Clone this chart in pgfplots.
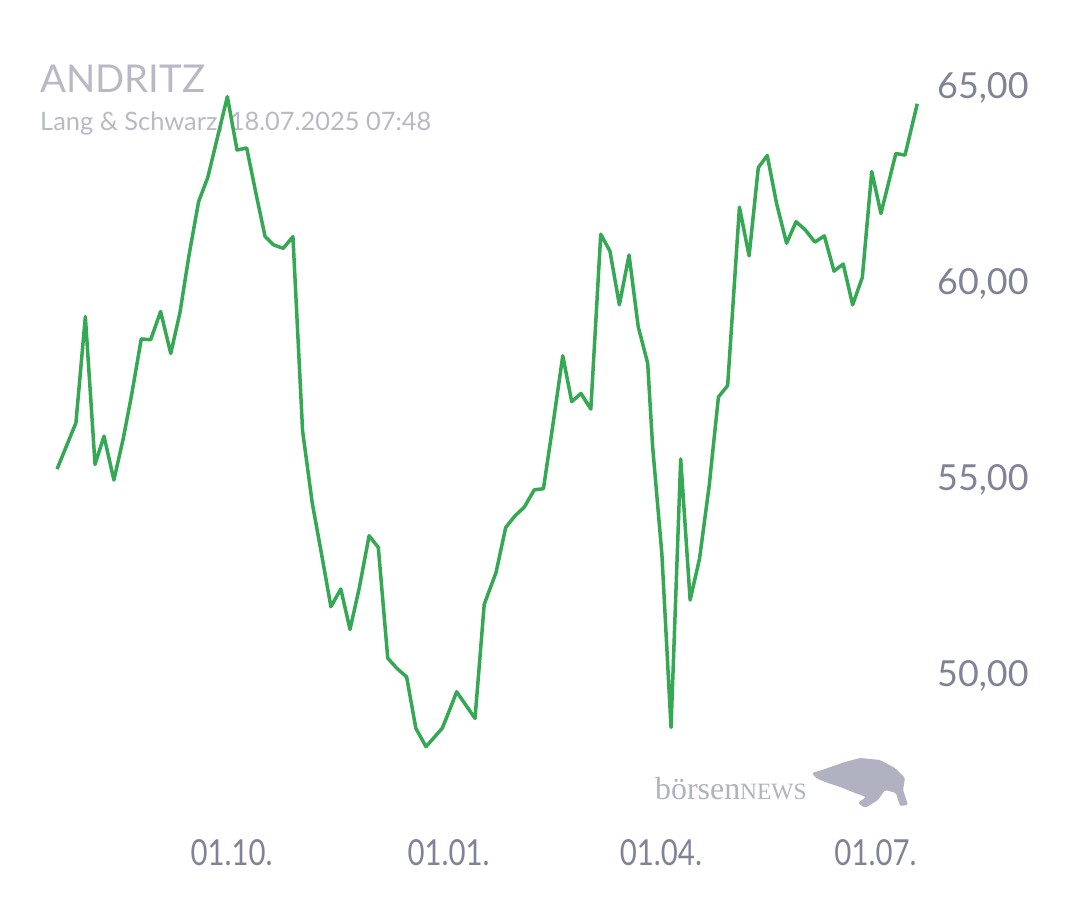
\documentclass[border=0pt]{standalone}
\usepackage{fontspec}
\setmainfont{Lato}
\newfontfamily\logofont{Liberation Serif}
\usepackage{graphicx}
\usepackage{pgfplots}
\pgfplotsset{compat=1.18}

\definecolor{lsgreen}{RGB}{52,168,83}
\definecolor{titlegray}{RGB}{185,185,198}
\definecolor{tickgray}{RGB}{128,131,152}
\definecolor{logogray}{RGB}{176,177,193}

\begin{document}
\begin{tikzpicture}[x=1bp,y=1bp]
  \useasboundingbox (0,0) rectangle (1080,900);

  % title block
  \node[anchor=base west, inner sep=0pt, text=titlegray,
        font=\fontsize{38.5}{40}\selectfont] at (40,807.3) {ANDRITZ};
  \node[anchor=base west, inner sep=0pt, text=titlegray,
        font=\fontsize{25.5}{28}\selectfont] at (40,769) {Lang \& Schwarz, 18.07.2025 07:48};

  % logo
  \node[anchor=base west, inner sep=0pt, text=logogray] at (655,100)
    {\logofont\fontsize{32}{34}\selectfont börsen\fontsize{23.5}{24}\selectfont NEWS};
  \fill[logogray, rounded corners=1.5bp]
    (812,127) -- (822,130) -- (845,138) -- (860,142) -- (880,140) -- (895,132)
    -- (905,122) -- (903,110) -- (908,95) -- (900,94) -- (896,107) -- (885,110)
    -- (878,100) -- (865,92) -- (858,97) -- (866,103) -- (855,107) -- (840,113)
    -- (828,117) -- (820,120) -- (815,123) -- cycle;

  \begin{axis}[
      at={(40bp,120bp)}, anchor=south west,
      scale only axis, width=890bp, height=720bp,
      xmin=-81.23, xmax=296.1,
      ymin=47.309, ymax=65.676,
      clip=false,
      axis line style={draw=none},
      major tick length=0pt,
      xtick={0,92,182,273},
      xticklabels={\scalebox{0.82}[1]{01.10.},\scalebox{0.82}[1]{01.01.},
                   \scalebox{0.82}[1]{01.04.},\scalebox{0.82}[1]{01.07.}},
      xticklabel style={anchor=base, inner sep=0pt, yshift=-86bp,
                        text=tickgray, font=\fontsize{36}{38}\selectfont},
      ytick={50,55,60,65},
      yticklabels={50{,}00,55{,}00,60{,}00,65{,}00},
      yticklabel pos=right,
      yticklabel style={anchor=base west, inner sep=0pt, xshift=7bp, yshift=-12bp,
                        text=tickgray, font=\fontsize{36}{38}\selectfont},
    ]
    \addplot[lsgreen, line width=3.5bp, mark=none, line join=round] coordinates {
      (-74.0,55.24) (-66.0,56.42) (-62.0,59.13) (-57.9,55.36) (-54.1,56.08)
      (-49.9,54.96) (-45.9,56.03) (-42.4,57.13) (-38.3,58.56) (-34.3,58.54)
      (-30.1,59.26) (-25.8,58.19) (-21.9,59.23) (-18.1,60.68) (-14.0,62.06)
      (-10.1,62.68) (-6.0,63.70) (-1.8,64.74) (2.3,63.38) (6.4,63.43)
      (10.3,62.28) (14.2,61.17) (17.8,60.96) (21.9,60.87) (26.0,61.17)
      (30.1,56.21) (34.2,54.37) (38.2,53.05) (42.1,51.73) (46.3,52.18)
      (50.2,51.15) (54.1,52.20) (58.3,53.54) (62.2,53.24) (66.2,50.42)
      (70.0,50.16) (74.2,49.94) (78.1,48.63) (82.4,48.16) (85.8,48.39)
      (89.3,48.63) (92.4,49.09) (95.4,49.56) (99.3,49.22) (103.2,48.88)
      (107.1,51.79) (112.1,52.60) (116.2,53.75) (120.2,54.05) (124.1,54.27)
      (128.3,54.71) (132.2,54.74) (136.1,56.32) (140.4,58.13) (144.2,56.96)
      (148.1,57.17) (152.3,56.77) (156.5,61.23) (160.4,60.80) (164.4,59.43)
      (168.5,60.70) (172.4,58.87) (176.4,57.94) (178.5,55.81) (182.4,53.09)
      (186.3,48.65) (190.4,55.50) (194.4,51.90) (198.4,52.96) (202.5,54.83)
      (206.4,57.08) (210.3,57.37) (215.3,61.92) (219.4,60.68) (223.3,62.93)
      (227.1,63.24) (231.1,62.00) (235.3,61.00) (239.3,61.55) (243.1,61.35)
      (247.3,61.03) (251.3,61.19) (255.4,60.29) (259.3,60.47) (263.3,59.43)
      (267.4,60.13) (271.4,62.83) (275.3,61.76) (281.6,63.29) (285.5,63.25)
      (290.7,64.56)
    };
  \end{axis}
\end{tikzpicture}
\end{document}
